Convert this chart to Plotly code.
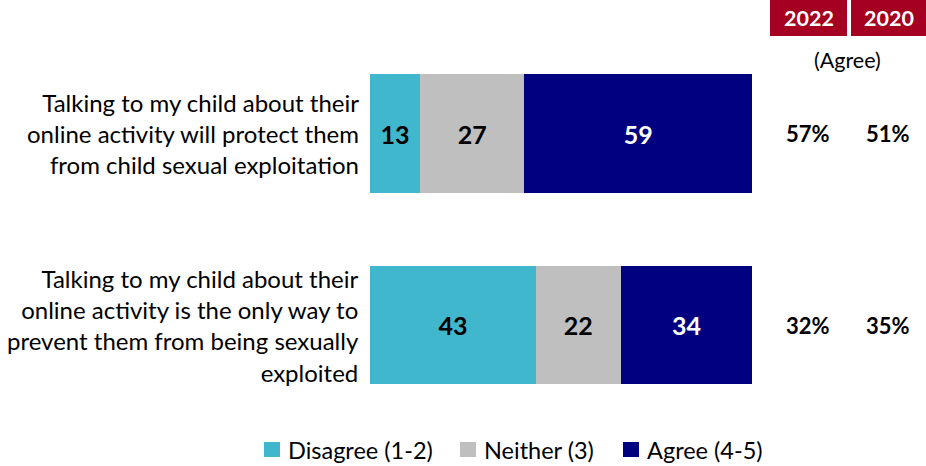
import plotly.graph_objects as go

statements = [
    "Talking to my child about their<br>online activity will protect them<br>from child sexual exploitation",
    "Talking to my child about their<br>online activity is the only way to<br>prevent them from being sexually<br>exploited",
]
series_names = ["Disagree (1-2)", "Neither (3)", "Agree (4-5)"]
disagree = [13, 43]
neither = [27, 22]
agree = [59, 34]
agree_2022 = ["57%", "32%"]
agree_2020 = ["51%", "35%"]
years = ["2022", "2020"]

colors = ["#41B7CE", "#BFBFBF", "#000080"]
text_colors = ["black", "black", "white"]
FONT = "Lato, Carlito, Calibri, sans-serif"
W, H = 926, 466

fig = go.Figure()
for name, vals, col, tcol in zip(series_names, [disagree, neither, agree], colors, text_colors):
    fig.add_trace(go.Bar(
        y=statements, x=vals, name=name, orientation="h",
        marker=dict(color=col, line=dict(width=0)),
        text=vals, texttemplate="<b>%{text}</b>", textposition="inside",
        insidetextanchor="middle",
        textfont=dict(family=FONT, size=25, color=tcol),
        width=0.62, hoverinfo="skip", showlegend=False,
    ))

# category centres at y pixels 133.5 and 325 (spacing 191.5)
y_top = -133.5 / 191.5
y_bot = (H - 133.5) / 191.5

annotations = []
# statement labels, right-aligned to the left of the bars
for i, s in enumerate(statements):
    annotations.append(dict(
        x=361 / W, xref="paper", y=i, yref="y", text=s, showarrow=False,
        xanchor="right", yanchor="middle", align="right",
        font=dict(family=FONT, size=24, color="black"),
    ))
    annotations.append(dict(
        x=808 / W, xref="paper", y=i, yref="y", text="<b>%s</b>" % agree_2022[i],
        showarrow=False, xanchor="center", yanchor="middle",
        font=dict(family=FONT, size=22, color="black"),
    ))
    annotations.append(dict(
        x=888 / W, xref="paper", y=i, yref="y", text="<b>%s</b>" % agree_2020[i],
        showarrow=False, xanchor="center", yanchor="middle",
        font=dict(family=FONT, size=22, color="black"),
    ))

# year header boxes
shapes = []
boxes = [(770, 847), (851, 926)]
for (x0, x1), yr in zip(boxes, years):
    shapes.append(dict(type="rect", xref="paper", yref="paper",
                       x0=x0 / W, x1=x1 / W, y0=1 - 36 / H, y1=1,
                       fillcolor="#A50021", line=dict(width=0), layer="below"))
    annotations.append(dict(
        x=(x0 + x1) / 2 / W, xref="paper", y=1 - 18 / H, yref="paper",
        text="<b>%s</b>" % yr, showarrow=False, xanchor="center", yanchor="middle",
        font=dict(family=FONT, size=21.5, color="white"),
    ))
annotations.append(dict(
    x=847 / W, xref="paper", y=1 - 60 / H, yref="paper", text="(Agree)",
    showarrow=False, xanchor="center", yanchor="middle",
    font=dict(family=FONT, size=21.5, color="black"),
))

# legend: coloured squares followed by series names
legend_x = [264, 460, 623]
for lx, name, col in zip(legend_x, series_names, colors):
    shapes.append(dict(type="rect", xref="paper", yref="paper",
                       x0=lx / W, x1=(lx + 16) / W, y0=1 - 457 / H, y1=1 - 442 / H,
                       fillcolor=col, line=dict(width=0)))
    annotations.append(dict(
        x=(lx + 22) / W, xref="paper", y=1 - 449.5 / H, yref="paper", text=name,
        showarrow=False, xanchor="left", yanchor="middle",
        font=dict(family=FONT, size=23.5, color="black"),
    ))

fig.update_layout(
    width=W, height=H, barmode="stack",
    margin=dict(l=0, r=0, t=0, b=0),
    paper_bgcolor="white", plot_bgcolor="white",
    xaxis=dict(domain=[370 / W, 752 / W], range=[0, 99], visible=False, fixedrange=True),
    yaxis=dict(range=[y_bot, y_top], visible=False, categoryorder="array",
               categoryarray=statements, fixedrange=True),
    showlegend=False,
    annotations=annotations, shapes=shapes,
)

fig.write_html("out.html", config={"displayModeBar": False})
